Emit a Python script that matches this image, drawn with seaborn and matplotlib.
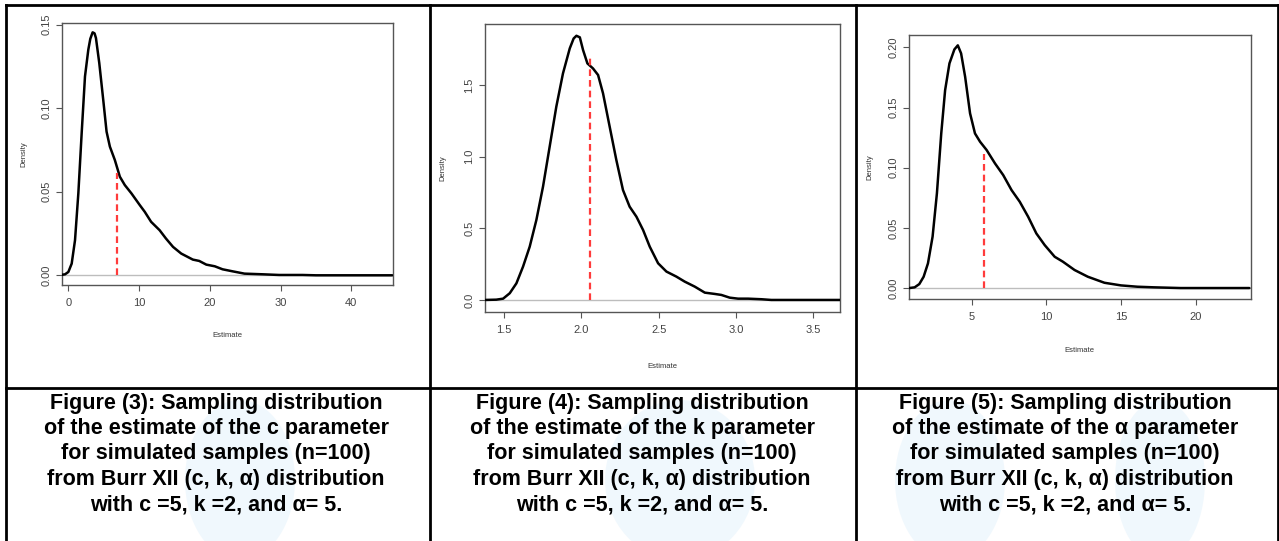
import matplotlib
matplotlib.use("Agg")
import matplotlib.pyplot as plt
import pandas as pd
import seaborn as sns
from matplotlib.lines import Line2D

# ---- density estimates of the three parameter estimates ----
c_est = [-1.4, -0.47, 0.0, 0.47, 0.94, 1.41, 1.88, 2.35, 2.82, 3.1, 3.43, 3.7,
         3.9, 4.37, 4.93, 5.4, 5.87, 6.57, 7.28, 7.98, 8.92, 10.1, 10.8, 11.7,
         12.9, 13.8, 14.8, 15.96, 17.6, 18.5, 19.5, 20.7, 21.8, 23.2, 24.9,
         27.5, 29.8, 33.1, 35.0, 45.8]
c_dens = [0.0, 0.0006, 0.002, 0.007, 0.021, 0.049, 0.085, 0.119, 0.135, 0.1415,
          0.1454, 0.1448, 0.142, 0.127, 0.105, 0.086, 0.077, 0.069, 0.059,
          0.054, 0.049, 0.042, 0.038, 0.032, 0.027, 0.022, 0.017, 0.013, 0.0094,
          0.0086, 0.0064, 0.0054, 0.0036, 0.0024, 0.001, 0.0006, 0.0002, 0.0002,
          0.0, 0.0]

k_est = [1.375, 1.45, 1.494, 1.537, 1.58, 1.623, 1.666, 1.709, 1.752, 1.795,
         1.838, 1.881, 1.925, 1.95, 1.968, 1.99, 2.011, 2.039, 2.075, 2.108,
         2.14, 2.183, 2.226, 2.269, 2.312, 2.356, 2.399, 2.442, 2.496, 2.55,
         2.614, 2.668, 2.733, 2.798, 2.862, 2.905, 2.959, 3.013, 3.078, 3.164,
         3.228, 3.672]
k_dens = [0.0, 0.002, 0.009, 0.047, 0.116, 0.233, 0.372, 0.558, 0.791, 1.07,
          1.349, 1.581, 1.756, 1.825, 1.844, 1.833, 1.744, 1.651, 1.616, 1.57,
          1.442, 1.209, 0.977, 0.767, 0.651, 0.581, 0.488, 0.372, 0.256, 0.198,
          0.163, 0.128, 0.093, 0.051, 0.042, 0.035, 0.016, 0.009, 0.009, 0.005,
          0.0, 0.0]

a_est = [0.82, 1.18, 1.49, 1.78, 2.07, 2.38, 2.67, 2.96, 3.22, 3.51, 3.84, 4.07,
         4.29, 4.56, 4.89, 5.22, 5.56, 6.0, 6.56, 7.11, 7.67, 8.22, 8.78, 9.33,
         9.89, 10.56, 11.11, 11.89, 12.78, 13.89, 15.0, 16.1, 17.2, 19.0, 23.6]
a_dens = [0.0, 0.0006, 0.0033, 0.0094, 0.0205, 0.0427, 0.0787, 0.1285, 0.1645,
          0.1867, 0.1983, 0.2017, 0.195, 0.1756, 0.1452, 0.1285, 0.1216, 0.1147,
          0.1036, 0.0939, 0.0814, 0.0717, 0.0593, 0.0454, 0.0357, 0.026, 0.0219,
          0.015, 0.0094, 0.0044, 0.0022, 0.0011, 0.0006, 0.0, 0.0]

# mean of each sampling distribution and the height of its marker line
mean_x = [6.93, 2.058, 5.82]
mean_h = [0.061, 1.70, 0.111]

x_ticks = [[0, 10, 20, 30, 40], [1.5, 2.0, 2.5, 3.0, 3.5], [5, 10, 15, 20]]
x_tick_labels = [["0", "10", "20", "30", "40"],
                 ["1.5", "2.0", "2.5", "3.0", "3.5"],
                 ["5", "10", "15", "20"]]
y_ticks = [[0.0, 0.05, 0.10, 0.15], [0.0, 0.5, 1.0, 1.5],
           [0.0, 0.05, 0.10, 0.15, 0.20]]
y_tick_labels = [["0.00", "0.05", "0.10", "0.15"],
                 ["0.0", "0.5", "1.0", "1.5"],
                 ["0.00", "0.05", "0.10", "0.15", "0.20"]]

captions = [
    ["Figure (3): Sampling distribution",
     "of the estimate of the c parameter",
     "for simulated samples (n=100)",
     "from Burr XII (c, k, \u03b1) distribution",
     "with c =5, k =2, and \u03b1= 5."],
    ["Figure (4): Sampling distribution",
     "of the estimate of the k parameter",
     "for simulated samples (n=100)",
     "from Burr XII (c, k, \u03b1) distribution",
     "with c =5, k =2, and \u03b1= 5."],
    ["Figure (5): Sampling distribution",
     "of the estimate of the \u03b1 parameter",
     "for simulated samples (n=100)",
     "from Burr XII (c, k, \u03b1) distribution",
     "with c =5, k =2, and \u03b1= 5."],
]

sns.set_theme(style="white")
plt.rcParams["font.family"] = ["Liberation Sans", "DejaVu Sans"]

W, H = 1279, 541
fig = plt.figure(figsize=(W / 100, H / 100), dpi=100)
fig.patch.set_facecolor("white")


def px_rect(left, top, right, bottom):
    return [left / W, 1 - bottom / H, (right - left) / W, (bottom - top) / H]


# faint light-blue background logo shapes behind the captions
for (cx, cy, w, h) in [(240, 480, 110, 160), (680, 480, 150, 160),
                       (950, 480, 110, 160), (1160, 480, 90, 160)]:
    fig.patches.append(matplotlib.patches.Ellipse(
        (cx / W, 1 - cy / H), w / W, h / H, transform=fig.transFigure,
        facecolor="#d6ecfa", edgecolor="none", alpha=0.35, zorder=0))

panels = [
    dict(rect=px_rect(62, 23.3, 393, 285), x=c_est, y=c_dens,
         xlim=(-0.9, 45.9), ylim=(-0.0058, 0.1508),
         dens_pos=(-0.106, 0.5), est_pos=(0.5, -0.18)),
    dict(rect=px_rect(484.7, 24.3, 840, 311.7), x=k_est, y=k_dens,
         xlim=(1.375, 3.672), ylim=(-0.082, 1.924),
         dens_pos=(-0.109, 0.5), est_pos=(0.5, -0.178)),
    dict(rect=px_rect(909, 35, 1250.7, 299), x=a_est, y=a_dens,
         xlim=(0.8, 23.69), ylim=(-0.0091, 0.2103),
         dens_pos=(-0.105, 0.5), est_pos=(0.5, -0.18)),
]

axis_col = "#555555"
for i, p in enumerate(panels):
    ax = fig.add_axes(p["rect"])
    ax.set_facecolor("white")
    df = pd.DataFrame({"Estimate": p["x"], "Density": p["y"]})
    ax.axhline(0, color="#bdbdbd", lw=1.0, zorder=1)
    sns.lineplot(data=df, x="Estimate", y="Density", ax=ax, color="black",
                 lw=1.8, sort=False, zorder=3)
    ax.plot([mean_x[i], mean_x[i]], [0, mean_h[i]], color="#ff3b3b",
            lw=1.6, linestyle=(0, (3, 1.8)), zorder=4)
    ax.set_xlim(*p["xlim"])
    ax.set_ylim(*p["ylim"])
    ax.set_xticks(x_ticks[i])
    ax.set_xticklabels(x_tick_labels[i])
    ax.set_yticks(y_ticks[i])
    ax.set_yticklabels(y_tick_labels[i], rotation=90, va="center")
    ax.tick_params(axis="both", direction="out", length=4.3, width=0.8,
                   color=axis_col, labelcolor="#444444", labelsize=8,
                   bottom=True, left=True)
    ax.tick_params(axis="x", pad=5)
    ax.tick_params(axis="y", pad=3)
    for s in ax.spines.values():
        s.set_color(axis_col)
        s.set_linewidth(1.0)
        s.set_visible(True)
    ax.set_xlabel("Estimate", fontsize=5.5, color="#333333")
    ax.set_ylabel("Density", fontsize=5.5, color="#333333")
    ax.xaxis.set_label_coords(*p["est_pos"])
    ax.yaxis.set_label_coords(*p["dens_pos"])
    ax.grid(False)

# table frame
frame_lines = [((6, 6), (5, H)), ((430, 430), (5, H)), ((856, 856), (5, H)),
               ((1278, 1278), (5, H)), ((6, 1278), (5, 5)),
               ((6, 1278), (387.5, 387.5))]
for xs, ys in frame_lines:
    fig.add_artist(Line2D([x / W for x in xs], [1 - y / H for y in ys],
                          transform=fig.transFigure, color="black", lw=2.0,
                          solid_capstyle="projecting", zorder=5))

# captions
col_centers = [216, 642, 1065]
line_y = [403, 428.5, 454, 479.5, 505]
for cx, lines in zip(col_centers, captions):
    for ly, text in zip(line_y, lines):
        fig.text(cx / W, 1 - ly / H, text, ha="center", va="center",
                 fontsize=15.5, fontweight="bold", color="black", zorder=6)

fig.savefig("out.png", dpi=100, facecolor="white")
